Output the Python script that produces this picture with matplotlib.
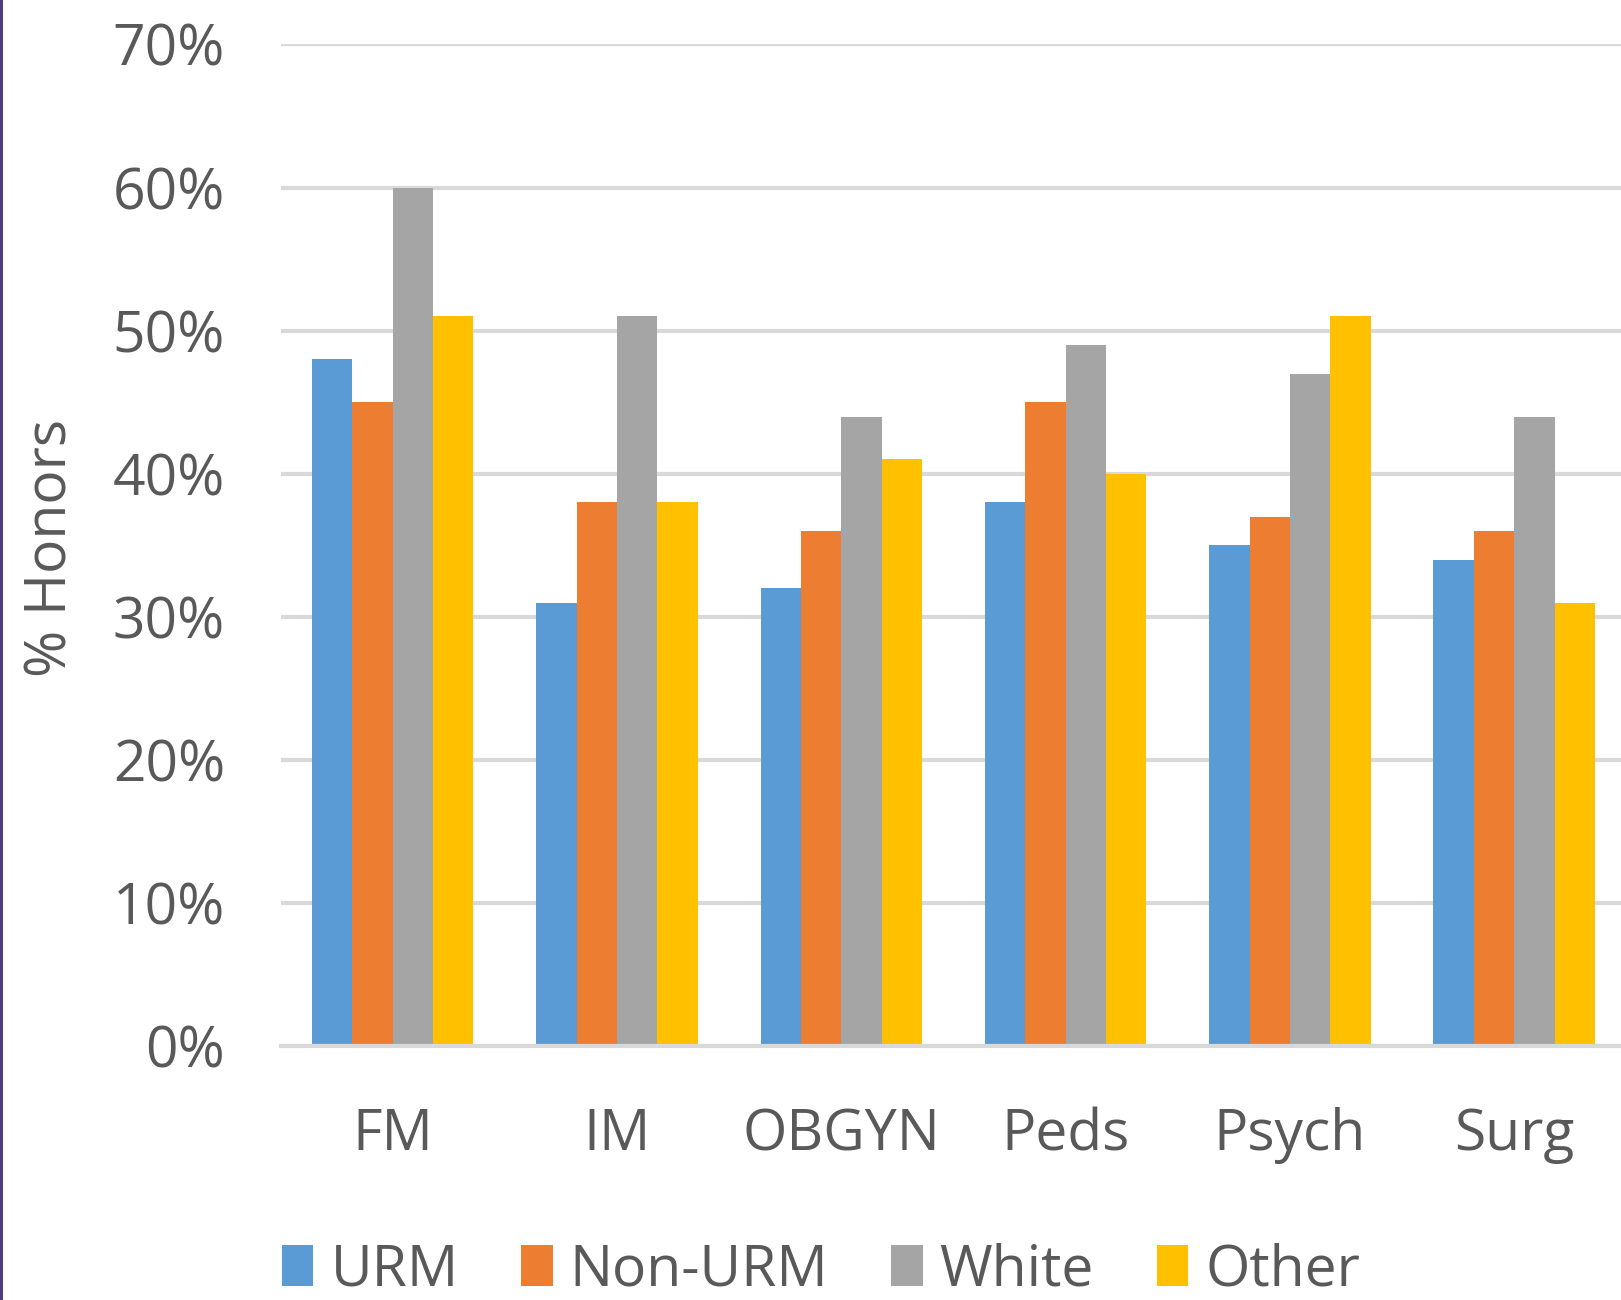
import numpy as np
import matplotlib
matplotlib.use('Agg')
from matplotlib import pyplot as plt, patches
from matplotlib.ticker import PercentFormatter

plt.rcParams['font.family'] = ['Open Sans', 'DejaVu Sans']

specialties = ['FM', 'IM', 'OBGYN', 'Peds', 'Psych', 'Surg']
groups = ['URM', 'Non-URM', 'White', 'Other']
urm = [48, 31, 32, 38, 35, 34]
non_urm = [45, 38, 36, 45, 37, 36]
white = [60, 51, 44, 49, 47, 44]
other = [51, 38, 41, 40, 51, 31]
yticks = [0, 10, 20, 30, 40, 50, 60, 70]

series = [urm, non_urm, white, other]
colours = ['#5B9BD5', '#ED7D31', '#A5A5A5', '#FFC000']
txt = '#595959'
fs = 41

fig = plt.figure(figsize=(16.21, 13.0), dpi=100)
ax = fig.add_axes([0.1731, 0.1952, 0.8302, 0.7706])

x = np.arange(len(specialties))
w = 0.18
for i, (vals, c, name) in enumerate(zip(series, colours, groups)):
    ax.bar(x + (i - 1.5)*w, vals, width=w, color=c, label=name, zorder=3)

ax.set_xlim(-0.5, len(specialties) - 0.5)
ax.set_ylim(0, 70)
ax.set_yticks(yticks)
ax.yaxis.set_major_formatter(PercentFormatter(decimals=0))
ax.set_xticks(x)
ax.set_xticklabels(specialties)
ax.grid(axis='y', color='#D9D9D9', lw=3, zorder=0)
for s in ['top', 'right', 'left']:
    ax.spines[s].set_visible(False)
ax.spines['bottom'].set_color('#D9D9D9')
ax.spines['bottom'].set_linewidth(3)
ax.spines['bottom'].set_zorder(4)
ax.tick_params(axis='both', length=0, labelsize=fs, labelcolor=txt)
ax.tick_params(axis='y', pad=40)
ax.tick_params(axis='x', pad=44)

fig.text(52/1621, 1 - 548/1300, '% Honors', rotation=90, ha='center', va='center',
         fontsize=fs, color=txt)

leg = fig.legend(loc='center', bbox_to_anchor=(821/1621, 1 - 1271/1300), ncol=4,
                 frameon=False, fontsize=fs, handlelength=0.55, handleheight=0.75,
                 handletextpad=0.3, columnspacing=1.1, borderaxespad=0,
                 borderpad=0)
for t in leg.get_texts():
    t.set_color(txt)

# thin frame edge on the left side
fig.add_artist(patches.Rectangle((0, 0), 3/1621, 1, transform=fig.transFigure,
                                 color='#4B3C80', lw=0))

fig.savefig('out.png', dpi=100)
